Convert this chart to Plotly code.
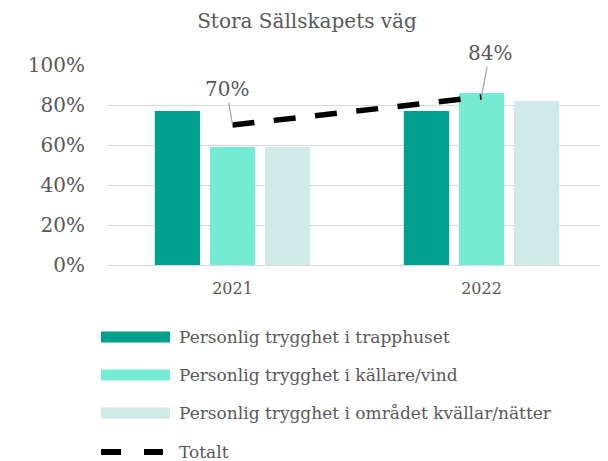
import plotly.graph_objects as go

years = ["2021", "2022"]
series_names = [
    "Personlig trygghet i trapphuset",
    "Personlig trygghet i källare/vind",
    "Personlig trygghet i området kvällar/nätter",
]
trapphuset = [0.77, 0.77]
kallare_vind = [0.59, 0.86]
omradet = [0.59, 0.82]
totalt = [0.70, 0.84]
total_name = "Totalt"
y_ticks = [0, 0.2, 0.4, 0.6, 0.8, 1.0]

colors = ["#00A08E", "#75EBD4", "#D0EAE9"]
FONT = "DejaVu Serif"
GRAY = "#595959"

OFF = 8  # page body margin
W, H = 608 - OFF, 461 - OFF
L, R, T, B = 108 - OFF, 2, 65 - OFF, 196
PW, PH = W - L - R, H - T - B

def px_x(px):
    return (px - OFF - L) / PW

def px_y(py):
    return (H - B - (py - OFF)) / PH

fig = go.Figure()
for name, vals, c in zip(series_names, [trapphuset, kallare_vind, omradet], colors):
    fig.add_trace(go.Bar(x=years, y=vals, name=name, marker=dict(color=c, line=dict(width=0)),
                         showlegend=False, hoverinfo="skip"))

fig.add_trace(go.Scatter(x=years, y=totalt, mode="lines", name=total_name,
                         line=dict(color="black", width=5.5, dash="22px,19.5px"),
                         showlegend=False))

# data labels for totals
offsets = [(-6, -36), (8, -44)]
for i, (v, (ax, ay)) in enumerate(zip(totalt, offsets)):
    fig.add_annotation(x=i, y=v, text=f"{round(v*100)}%", showarrow=True, arrowhead=0,
                       arrowwidth=1.3, arrowcolor="#A6A6A6", ax=ax, ay=ay, standoff=1,
                       font=dict(family=FONT, size=20, color=GRAY))

# custom legend
row_y = [337, 375, 413, 452]
for i, (name, c) in enumerate(zip(series_names, colors)):
    y = row_y[i]
    fig.add_shape(type="rect", xref="paper", yref="paper",
                  x0=px_x(101), x1=px_x(170), y0=px_y(y - 5.5), y1=px_y(y + 5.5),
                  fillcolor=c, line=dict(width=0))
    fig.add_annotation(xref="paper", yref="paper", x=px_x(177), y=px_y(y), text=name,
                       showarrow=False, xanchor="left", yanchor="middle",
                       font=dict(family=FONT, size=17, color=GRAY))
y = row_y[3]
for a, b in [(101, 121), (144, 163)]:
    fig.add_shape(type="line", xref="paper", yref="paper",
                  x0=px_x(a), x1=px_x(b), y0=px_y(y), y1=px_y(y),
                  line=dict(color="black", width=6))
fig.add_annotation(xref="paper", yref="paper", x=px_x(177), y=px_y(y), text=total_name,
                   showarrow=False, xanchor="left", yanchor="middle",
                   font=dict(family=FONT, size=17, color=GRAY))

fig.update_layout(
    width=W, height=H,
    margin=dict(l=L, r=R, t=T, b=B, autoexpand=False),
    paper_bgcolor="white", plot_bgcolor="white",
    barmode="group", bargap=0.336, bargroupgap=0.18,
    showlegend=False,
    title=dict(text="Stora Sällskapets väg", x=(307 - OFF) / W, xref="container",
               xanchor="center", y=1 - (21 - OFF) / H, yanchor="middle",
               font=dict(family=FONT, size=20, color=GRAY)),
    font=dict(family=FONT, color=GRAY),
)
fig.update_xaxes(type="category", range=[-0.5, 1.5], showgrid=False, showline=False, ticks="",
                 tickfont=dict(family=FONT, size=16, color=GRAY), ticklabelstandoff=12)
fig.update_yaxes(range=[0, 1.0], tickvals=y_ticks, tickformat=".0%",
                 showgrid=True, gridcolor="#D9D9D9", gridwidth=1.3,
                 zeroline=True, zerolinecolor="#D9D9D9", zerolinewidth=1.3,
                 showline=False, ticks="", ticklabelstandoff=22,
                 tickfont=dict(family=FONT, size=20, color=GRAY))

fig.write_html("out.html")
